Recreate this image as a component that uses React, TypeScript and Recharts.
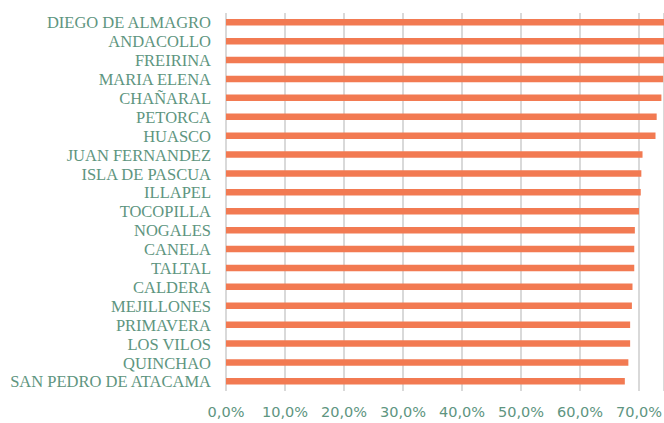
import { BarChart, Bar, XAxis, YAxis, CartesianGrid } from "recharts";

const comunas = [
  "DIEGO DE ALMAGRO",
  "ANDACOLLO",
  "FREIRINA",
  "MARIA ELENA",
  "CHAÑARAL",
  "PETORCA",
  "HUASCO",
  "JUAN FERNANDEZ",
  "ISLA DE PASCUA",
  "ILLAPEL",
  "TOCOPILLA",
  "NOGALES",
  "CANELA",
  "TALTAL",
  "CALDERA",
  "MEJILLONES",
  "PRIMAVERA",
  "LOS VILOS",
  "QUINCHAO",
  "SAN PEDRO DE ATACAMA",
];

const porcentajes = [
  0.762, 0.756, 0.75, 0.741, 0.738, 0.73, 0.728, 0.706, 0.704, 0.703, 0.7,
  0.693, 0.692, 0.692, 0.689, 0.688, 0.685, 0.685, 0.682, 0.676,
];

const xTicks = [0, 0.1, 0.2, 0.3, 0.4, 0.5, 0.6, 0.7];

const data = comunas.map((nombre, i) => ({ nombre, valor: porcentajes[i] }));

const GREEN = "#5e9580";
const ORANGE = "#f27a52";

const fmtPct = (v: number) => (v * 100).toFixed(1).replace(".", ",") + "%";

export default function App() {
  return (
    <div style={{ position: "absolute", left: 0, top: 0 }}>
      <BarChart
        width={664}
        height={423}
        data={data}
        layout="vertical"
        margin={{ top: 13, right: 0, bottom: 0, left: 0 }}
        barCategoryGap={0}
      >
        <CartesianGrid horizontal={false} stroke="#d9d9d9" strokeWidth={2} />
        <XAxis
          type="number"
          domain={[0, 0.7424]}
          ticks={xTicks}
          allowDataOverflow
          tickFormatter={fmtPct}
          axisLine={false}
          tickLine={false}
          tickSize={0}
          tickMargin={16}
          height={32}
          tick={{ fill: GREEN, fontSize: 14.5, fontFamily: "DejaVu Sans" }}
        />
        <YAxis
          type="category"
          dataKey="nombre"
          width={226}
          axisLine={false}
          tickLine={false}
          tickSize={0}
          tickMargin={15}
          interval={0}
          tick={{ fill: GREEN, fontSize: 16.5, fontFamily: "Liberation Serif" }}
        />
        <Bar dataKey="valor" fill={ORANGE} barSize={6.5} isAnimationActive={false} />
      </BarChart>
    </div>
  );
}
